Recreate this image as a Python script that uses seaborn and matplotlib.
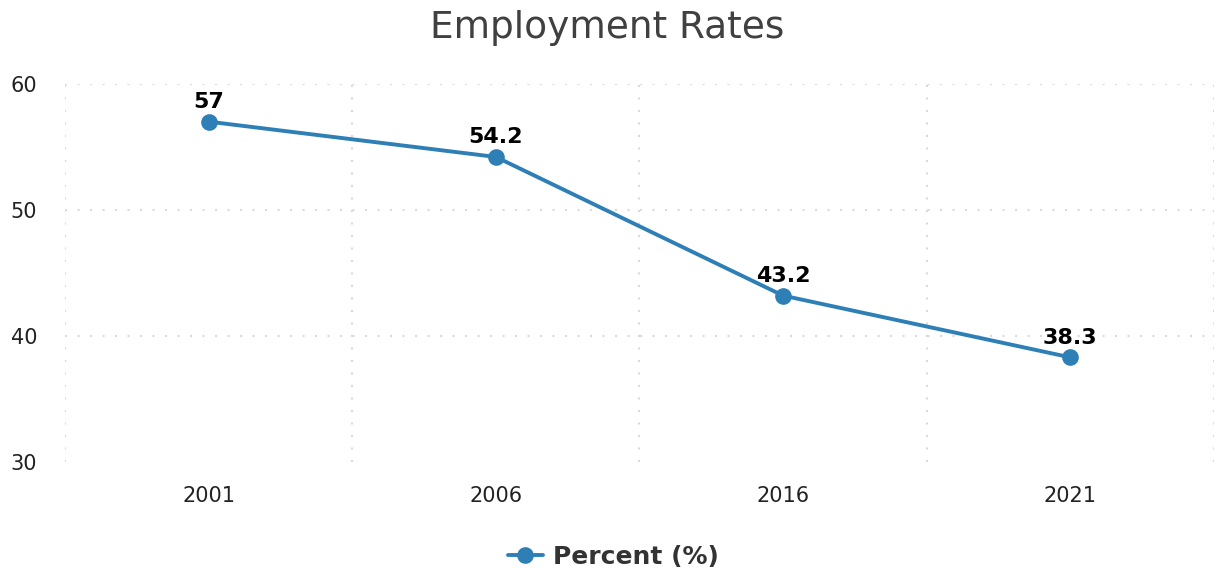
import matplotlib
matplotlib.use("Agg")
import matplotlib.pyplot as plt
import seaborn as sns
import pandas as pd

years = ["2001", "2006", "2016", "2021"]
percent = [57, 54.2, 43.2, 38.3]
labels = ["57", "54.2", "43.2", "38.3"]
y_ticks = [30, 40, 50, 60]

sns.set_theme(style="white")
plt.rcParams['font.family'] = ['DejaVu Sans']

df = pd.DataFrame({"Year": years, "Percent (%)": percent})
color = "#2e7fb6"

fig = plt.figure(figsize=(12.14, 5.73), dpi=100)
ax = fig.add_axes([0.0535, 0.1937, 0.9465, 0.66])

sns.lineplot(data=df, x="Year", y="Percent (%)", ax=ax, color=color, marker="o",
             markersize=12, linewidth=2.8, markeredgewidth=0, label="Percent (%)")

for i, (v, t) in enumerate(zip(percent, labels)):
    ax.annotate(t, (i, v), xytext=(0, 7), textcoords="offset points", ha="center",
                va="bottom", fontsize=16, fontweight="bold", color="black")

ax.set_xlim(-0.5, 3.5)
ax.set_ylim(30, 60)
ax.set_yticks(y_ticks)
ax.set_xticks(range(len(years)))
ax.set_xticklabels(years)
ax.set_xticks([-0.5, 0.5, 1.5, 2.5, 3.5], minor=True)
ax.grid(False)
ax.yaxis.grid(True, linestyle=(0, (1, 5)), color="#dadada", linewidth=1.5)
ax.xaxis.grid(True, which="minor", linestyle=(0, (1, 5)), color="#dadada", linewidth=1.5)
ax.get_ygridlines()[0].set_visible(False)
ax.tick_params(axis="both", which="both", length=0)
ax.tick_params(axis="y", labelsize=15, pad=20, labelcolor="#222222")
ax.tick_params(axis="x", labelsize=15, pad=17, labelcolor="#222222")
for s in ax.spines.values():
    s.set_visible(False)
ax.set_xlabel("")
ax.set_ylabel("")

leg = ax.get_legend()
handles, lbls = ax.get_legend_handles_labels()
leg.remove()
fig.legend(handles, lbls, loc="center", bbox_to_anchor=(0.505, 0.028), frameon=False,
           prop={"size": 18, "weight": "bold"}, handlelength=1.4, handletextpad=0.4,
           labelcolor="#333333")

fig.suptitle("Employment Rates", fontsize=27, color="#404040", y=0.983)

fig.savefig("out.png", dpi=100)
